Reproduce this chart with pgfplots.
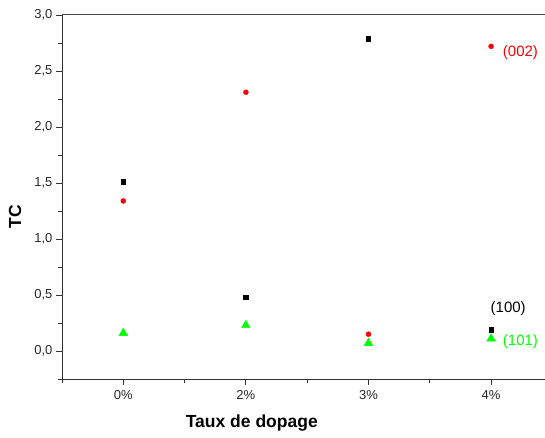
\documentclass[border=0pt]{standalone}
\usepackage{fontspec}
\setmainfont{Liberation Sans}
\usepackage{pgfplots}
\pgfplotsset{compat=1.18}
\definecolor{lgreen}{RGB}{0,255,0}
\begin{document}
\begin{tikzpicture}
\begin{axis}[
  name=ax,
  scale only axis,
  width=483pt, height=364pt,
  xmin=-0.5, xmax=3.44,
  ymin=-0.25, ymax=3.0,
  axis x line*=bottom,
  axis y line*=left,
  axis line style={black!80, line width=0.9pt},
  every tick/.style={black!80, line width=0.8pt},
  xtick={0,1,2,3},
  xticklabels={0\%,2\%,3\%,4\%},
  minor xtick={-0.5,0.5,1.5,2.5},
  ytick={0,0.5,1,1.5,2,2.5,3},
  minor ytick={-0.25,0.25,0.75,1.25,1.75,2.25,2.75},
  tick align=outside,
  major tick length=6pt,
  minor tick length=4pt,
  /pgf/number format/assume math mode=true,
  yticklabel style={/pgf/number format/.cd, use comma, fixed, fixed zerofill, precision=1},
  ticklabel style={font=\fontsize{13}{15}\selectfont, text=black!85},
  xticklabel style={yshift=-2pt},
  clip=false,
]
\draw[black!70, line width=1pt] (rel axis cs:0,1) -- (rel axis cs:1,1);
\addplot[only marks, mark=square*, mark size=2.2pt, black] coordinates {
  (0,1.51) (1,0.48) (2,2.79) (3,0.19)};
\addplot[only marks, mark=*, mark size=2.5pt, red] coordinates {
  (0,1.34) (1,2.31) (2,0.15) (3,2.72)};
\addplot[only marks, mark=triangle*, mark size=5pt, lgreen] coordinates {
  (0,0.16) (1,0.23) (2,0.07) (3,0.11)};
\node[red, font=\fontsize{15}{17}\selectfont] at (axis cs:3.24,2.66) {(002)};
\node[black, font=\fontsize{15}{17}\selectfont] at (axis cs:3.14,0.38) {(100)};
\node[lgreen, font=\fontsize{15}{17}\selectfont] at (axis cs:3.24,0.08) {(101)};
\end{axis}
\node[rotate=90, font=\bfseries\fontsize{17.5}{19}\selectfont] at ([xshift=-47pt,yshift=-20pt]ax.west) {TC};
\node[font=\bfseries\fontsize{17.5}{19}\selectfont] at ([xshift=-51.7pt,yshift=-44pt]ax.south) {Taux de dopage};
\pgfresetboundingbox
\path[use as bounding box] ([xshift=-62pt,yshift=-58pt]ax.south west) rectangle ([yshift=15pt]ax.north east);
\end{tikzpicture}
\end{document}
